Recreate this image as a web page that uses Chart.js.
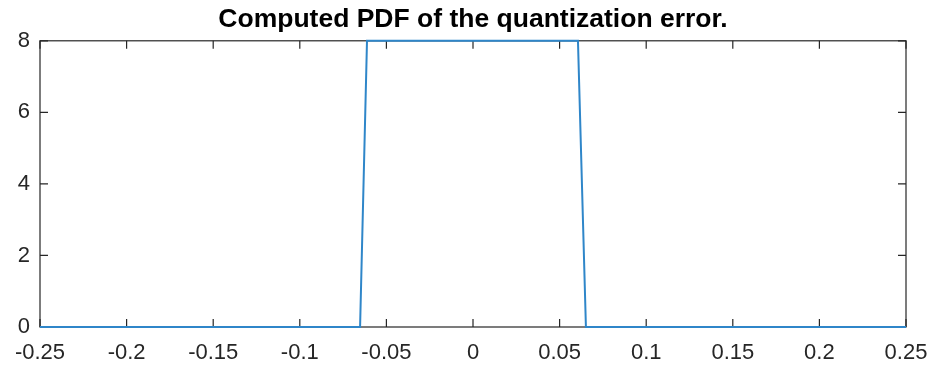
<!DOCTYPE html>
<html>
<head>
<meta charset="utf-8">
<script src="https://cdn.jsdelivr.net/npm/chart.js@4/dist/chart.umd.min.js"></script>
<style>
  html, body { margin: 0; padding: 0; background: #fff; }
  #wrap { width: 935px; height: 373px; }
</style>
</head>
<body>
<div id="wrap"><canvas id="grafico"></canvas></div>
<script>
// Dados
const erroX = [-0.25, -0.0652, -0.0612, 0.0606, 0.0652, 0.25];
const pdfY = [0, 0, 8, 8, 0, 0];
const ticksX = [-0.25, -0.2, -0.15, -0.1, -0.05, 0, 0.05, 0.1, 0.15, 0.2, 0.25];
const ticksY = [0, 2, 4, 6, 8];

const corEixo = '#262626';

// Caixa e marcas para dentro, estilo MATLAB
const caixaPlugin = {
    id: 'caixa',
    beforeDatasetsDraw(chart) {
        const { ctx, chartArea: a, scales } = chart;
        const len = 8;
        ctx.save();
        ctx.strokeStyle = corEixo;
        ctx.lineWidth = 1.2;
        ctx.strokeRect(a.left, a.top, a.right - a.left, a.bottom - a.top);
        ctx.beginPath();
        ticksX.forEach(v => {
            const px = scales.x.getPixelForValue(v);
            ctx.moveTo(px, a.bottom); ctx.lineTo(px, a.bottom - len);
            ctx.moveTo(px, a.top); ctx.lineTo(px, a.top + len);
        });
        ticksY.forEach(v => {
            const py = scales.y.getPixelForValue(v);
            ctx.moveTo(a.left, py); ctx.lineTo(a.left + len, py);
            ctx.moveTo(a.right, py); ctx.lineTo(a.right - len, py);
        });
        ctx.stroke();
        ctx.restore();
    }
};

const ctx = document.getElementById('grafico').getContext('2d');
new Chart(ctx, {
    type: 'line',
    data: {
        datasets: [{
            data: erroX.map((x, i) => ({ x: x, y: pdfY[i] })),
            borderColor: '#2f86c9',
            borderWidth: 2,
            pointRadius: 0,
            tension: 0,
            clip: false
        }]
    },
    options: {
        responsive: true,
        maintainAspectRatio: false,
        animation: false,
        layout: { padding: { left: 0, right: 29, top: 0, bottom: 0 } },
        plugins: {
            legend: { display: false },
            tooltip: { enabled: false },
            title: {
                display: true,
                fullSize: false,
                text: 'Computed PDF of the quantization error.',
                color: '#000',
                font: { family: 'Liberation Sans, Arial, sans-serif', size: 26.5, weight: 'bold' },
                padding: { top: 4, bottom: 5 }
            }
        },
        scales: {
            x: {
                type: 'linear',
                min: -0.25,
                max: 0.25,
                afterBuildTicks: s => { s.ticks = ticksX.map(v => ({ value: v })); },
                afterFit: s => { s.height = 46; s.paddingLeft = 0; s.paddingRight = 0; },
                grid: { display: false, drawTicks: false },
                border: { display: false },
                ticks: {
                    color: corEixo,
                    padding: 13,
                    maxRotation: 0,
                    autoSkip: false,
                    font: { family: 'Liberation Sans, Arial, sans-serif', size: 22 },
                    callback: v => String(Number(v.toFixed(2)))
                }
            },
            y: {
                min: 0,
                max: 8,
                afterBuildTicks: s => { s.ticks = ticksY.map(v => ({ value: v })); },
                afterFit: s => { s.width = 40; s.paddingTop = 0; s.paddingBottom = 0; },
                grid: { display: false, drawTicks: false },
                border: { display: false },
                ticks: {
                    color: corEixo,
                    padding: 10,
                    font: { family: 'Liberation Sans, Arial, sans-serif', size: 22 }
                }
            }
        }
    },
    plugins: [caixaPlugin]
});
</script>
</body>
</html>
